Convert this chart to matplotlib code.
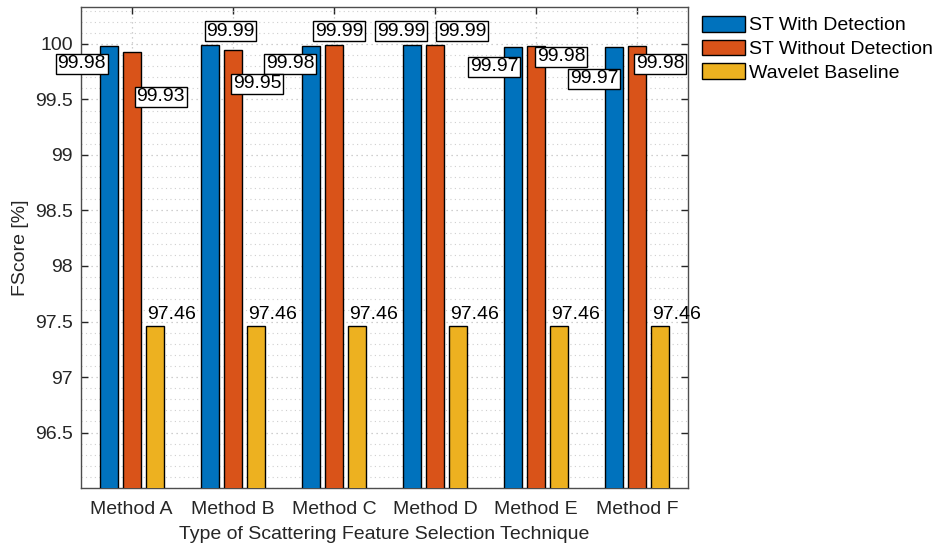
import numpy as np
import matplotlib.pyplot as plt
from matplotlib.ticker import MultipleLocator

plt.rcParams['font.family'] = ['Liberation Sans', 'DejaVu Sans']

methods = ['Method A', 'Method B', 'Method C', 'Method D', 'Method E', 'Method F']
series = ['ST With Detection', 'ST Without Detection', 'Wavelet Baseline']
st_with = [99.98, 99.99, 99.98, 99.99, 99.97, 99.97]
st_without = [99.93, 99.95, 99.99, 99.99, 99.98, 99.98]
wavelet = [97.46, 97.46, 97.46, 97.46, 97.46, 97.46]

# label box centres (offset from group centre in x, absolute y)
with_lbl_dx = [-0.494, -0.023, -0.43, -0.335, -0.417, -0.429]
with_lbl_y = [99.82, 100.117, 99.82, 100.117, 99.793, 99.685]
without_lbl_dx = [0.286, 0.244, 0.053, 0.268, 0.245, 0.222]
without_lbl_y = [99.523, 99.64, 100.117, 100.117, 99.883, 99.82]

colors = ['#0072BD', '#D95319', '#EDB120']
txt = '#262626'
fs = 14

fig = plt.figure(figsize=(9.39, 5.49), dpi=100)
ax = fig.add_axes([0.0863, 0.1111, 0.6464, 0.8761])

x = np.arange(1, len(methods) + 1)
off = 0.227
w = 0.178
for i, (vals, c, name) in enumerate(zip([st_with, st_without, wavelet], colors, series)):
    ax.bar(x + (i - 1) * off, vals, w, color=c, edgecolor='black', linewidth=1.0,
           label=name, zorder=3)

box = dict(facecolor='white', edgecolor='black', linewidth=1.0, pad=1.3)
for xi, v, dx, yy in zip(x, st_with, with_lbl_dx, with_lbl_y):
    ax.text(xi + dx, yy, f'{v:.2f}', ha='center', va='center', fontsize=fs,
            bbox=box, zorder=5)
for xi, v, dx, yy in zip(x, st_without, without_lbl_dx, without_lbl_y):
    ax.text(xi + dx, yy, f'{v:.2f}', ha='center', va='center', fontsize=fs,
            bbox=box, zorder=5)
for xi, v in zip(x, wavelet):
    ax.text(xi + 0.39, v + 0.03, f'{v:.2f}', ha='center', va='bottom', fontsize=fs,
            zorder=5)

ax.set_xlim(0.5, 6.5)
ax.set_ylim(96.0, 100.333)
ax.set_xticks(x)
ax.set_xticklabels(methods)
ax.set_yticks([96.5, 97, 97.5, 98, 98.5, 99, 99.5, 100])
ax.set_yticklabels(['96.5', '97', '97.5', '98', '98.5', '99', '99.5', '100'])
ax.yaxis.set_minor_locator(MultipleLocator(0.1))

ax.tick_params(axis='both', which='major', direction='in', length=5, width=1,
               top=True, right=True, labelsize=fs, colors=txt)
ax.tick_params(axis='x', which='major', pad=9)
ax.tick_params(axis='y', which='major', pad=6)
ax.tick_params(axis='y', which='minor', left=False, right=False)
ax.grid(True, which='major', color='#c0c0c0', linestyle=(0, (1, 3)), linewidth=0.9, zorder=0)
ax.grid(True, which='minor', axis='y', color='#cfcfcf', linestyle=(0, (1, 3)), linewidth=0.8, zorder=0)
ax.set_axisbelow(True)
for s in ax.spines.values():
    s.set_color('#4d4d4d')
    s.set_linewidth(1.0)

ax.set_xlabel('Type of Scattering Feature Selection Technique', fontsize=fs, color=txt, labelpad=6)
ax.set_ylabel('FScore [%]', fontsize=fs, color=txt, labelpad=4)

fig.legend(loc='upper left', bbox_to_anchor=(0.7395, 0.985), frameon=False, fontsize=fs,
           handlelength=2.2, handleheight=0.85, labelspacing=0.27, handletextpad=0.2,
           borderaxespad=0)

fig.savefig('out.png', dpi=100)
